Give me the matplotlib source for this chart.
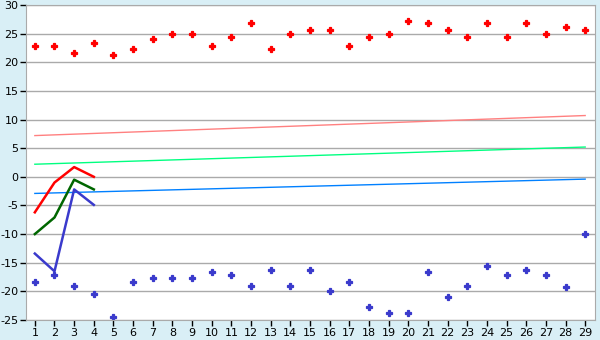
import matplotlib
matplotlib.use("Agg")
import matplotlib.pyplot as plt

plt.rcParams["axes.unicode_minus"] = False

dias = list(range(1, 30))

max_pontos = [22.8, 22.8, 21.7, 23.3, 21.2, 22.3, 24.0, 25.0, 25.0, 22.8,
              24.4, 26.8, 22.3, 25.0, 25.6, 25.6, 22.8, 24.4, 25.0, 27.2,
              26.8, 25.6, 24.4, 26.8, 24.4, 26.8, 25.0, 26.1, 25.6]
min_pontos = [-18.3, -17.2, -19.0, -20.5, -24.4, -18.3, -17.7, -17.7, -17.7, -16.7,
              -17.2, -19.0, -16.2, -19.0, -16.2, -20.0, -18.3, -22.8, -23.8, -23.8,
              -16.7, -21.0, -19.0, -15.6, -17.2, -16.2, -17.2, -19.3, -10.0]

dias_curtos = [1, 2, 3, 4]
linha_max = [-6.2, -1.0, 1.7, 0.0]
linha_med = [-10.0, -7.1, -0.5, -2.2]
linha_min = [-13.4, -16.5, -2.2, -4.9]

# tendencias: valor no dia 1 e no dia 29
tend_x = [1, 29]
tend_max = [7.2, 10.7]
tend_med = [2.2, 5.2]
tend_min = [-2.9, -0.4]

fundo = "#d9eff6"
fig = plt.figure(figsize=(6, 3.4), dpi=100, facecolor=fundo)
ax = fig.add_axes([26 / 600, 1 - 320 / 340, 569 / 600, 315 / 340])
ax.set_facecolor("white")

ax.plot(tend_x, tend_max, color="#ff8080", linewidth=1)
ax.plot(tend_x, tend_med, color="#00ff80", linewidth=1)
ax.plot(tend_x, tend_min, color="#0080ff", linewidth=1)

ax.plot(dias_curtos, linha_max, color="#ff0000", linewidth=1.8)
ax.plot(dias_curtos, linha_med, color="#006600", linewidth=1.8)
ax.plot(dias_curtos, linha_min, color="#3a3acc", linewidth=1.8)

ax.plot(dias, max_pontos, linestyle="none", marker="P", markersize=4.2,
        color="#ff0000", markeredgewidth=0.9)
ax.plot(dias, min_pontos, linestyle="none", marker="P", markersize=4.2,
        color="#3a3acc", markeredgewidth=0.9)

ax.set_xlim(0.55, 29.5)
ax.set_ylim(-25, 30)
ax.set_xticks(dias)
ax.set_yticks(range(-25, 31, 5))
ax.grid(axis="y", color="#aaaaaa", linewidth=1)
ax.set_axisbelow(True)
for lado in ["left", "right", "top", "bottom"]:
    ax.spines[lado].set_color("#aaaaaa")
ax.tick_params(axis="both", labelsize=8, color="black", length=4, width=1, pad=1.5)

fig.savefig("out.png", dpi=100, facecolor=fundo)
